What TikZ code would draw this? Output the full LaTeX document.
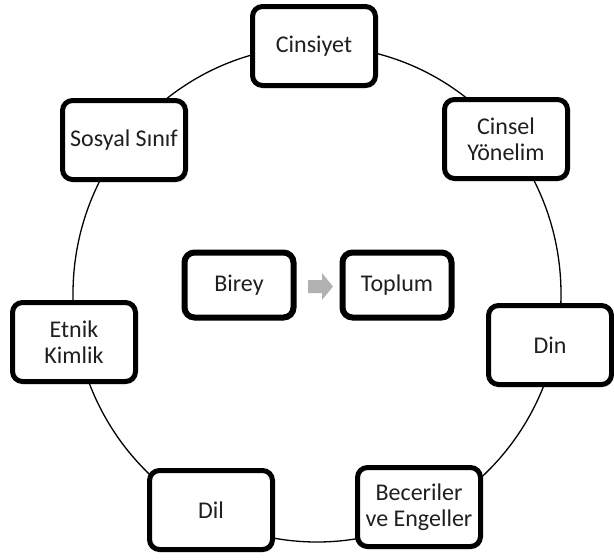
\documentclass[tikz,border=0pt]{standalone}
\usepackage{fontspec}
\setmainfont{Carlito}
\usetikzlibrary{shadows}

\begin{document}
\begin{tikzpicture}[x=1pt,y=-1pt,
  box/.style={draw=black, line width=5pt, rounded corners=10pt, fill=white,
    minimum width=123pt, minimum height=79pt, align=center,
    font=\fontsize{24}{26}\selectfont, text=black!88,
    drop shadow={shadow xshift=2pt, shadow yshift=-2.5pt, opacity=0.35}},
  core/.style={box, line width=6pt, minimum width=109pt, minimum height=65pt},
  ring/.style={line width=1.3pt},
  blockarrow/.style={fill=black!30, draw=none}
]
\useasboundingbox (0,0) rectangle (614,560);

% the ring that links all groups
\coordinate (mid) at (317,294);
\draw[ring] (mid) ellipse [x radius=244, y radius=248];

% groups around the ring
\node[box] (cinsiyet) at (314,46)  {Cinsiyet};
\node[box] (yonelim)  at (506,139) {Cinsel\\Yönelim};
\node[box] (din)      at (550,345) {Din};
\node[box] (beceri)   at (419,507) {Beceriler\\ve Engeller};
\node[box] (dil)      at (211,510) {Dil};
\node[box] (etnik)    at (74,342)  {Etnik\\Kimlik};
\node[box] (sinif)    at (124,140) {Sosyal Sınıf};

% centre: individual to society
\node[core] (birey)  at (239,285) {Birey};
\node[core] (toplum) at (397,285) {Toplum};
\fill[blockarrow] (308,280) -- (322,280) -- (322,273) -- (333,286.5)
  -- (322,300) -- (322,293) -- (308,293) -- cycle;
\end{tikzpicture}
\end{document}
